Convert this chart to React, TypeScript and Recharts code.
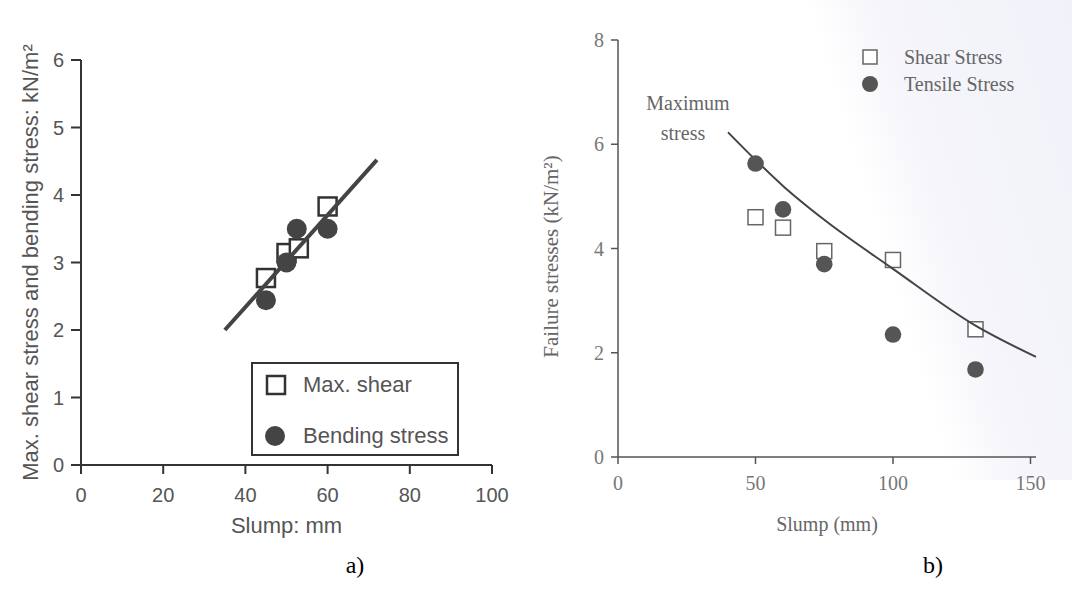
import { ScatterChart, Scatter, XAxis, YAxis, Legend } from 'recharts';

// a) max shear / bending stress vs slump
const slumpShearA = [45, 50, 53, 60];
const shearA = [2.77, 3.14, 3.21, 3.83];
const slumpBendA = [45, 50, 52.5, 60];
const bendA = [2.44, 3.0, 3.5, 3.5];
const fitSlumpA = [35, 72];
const fitA = [2.0, 4.52];
const xTicksA = [0, 20, 40, 60, 80, 100];
const yTicksA = [0, 1, 2, 3, 4, 5, 6];

// b) failure stresses vs slump
const slumpB = [50, 60, 75, 100, 130];
const shearB = [4.6, 4.4, 3.95, 3.78, 2.45];
const tensileB = [5.63, 4.75, 3.7, 2.35, 1.68];
const curveSlumpB = [40, 50, 60, 75, 100, 130, 152];
const curveB = [6.23, 5.7, 5.2, 4.55, 3.61, 2.52, 1.92];
const xTicksB = [0, 50, 100, 150];
const yTicksB = [0, 2, 4, 6, 8];

const zip = (xs: number[], ys: number[]) => xs.map((x, i) => ({ x, y: ys[i] }));

const SANS = '"Liberation Sans", Arial, sans-serif';
const SERIF = '"Liberation Serif", "Times New Roman", serif';

const square = (size: number, stroke: string, sw: number) => (p: any) => (
  <rect x={p.cx - size / 2} y={p.cy - size / 2} width={size} height={size} fill="#fff" stroke={stroke} strokeWidth={sw} />
);
const dot = (r: number, fill: string) => (p: any) => <circle cx={p.cx} cy={p.cy} r={r} fill={fill} />;
const none = () => <g />;

const yTitle = (text: string, dist: number, dy: number, font: string, size: number, color: string) => ({
  content: (p: any) => {
    const vb = p.viewBox;
    const x = vb.x + vb.width - dist;
    const y = vb.y + vb.height / 2 + dy;
    return (
      <text x={x} y={y} transform={`rotate(-90 ${x} ${y})`} textAnchor="middle" dominantBaseline="central"
        fontFamily={font} fontSize={size} fill={color}>{text}</text>
    );
  },
});

const xTitle = (text: string, dist: number, font: string, size: number, color: string) => ({
  content: (p: any) => {
    const vb = p.viewBox;
    return (
      <text x={vb.x + vb.width / 2} y={vb.y + dist} textAnchor="middle" fontFamily={font} fontSize={size} fill={color}>{text}</text>
    );
  },
});

const LegendA = () => (
  <div style={{ width: 208, height: 94, boxSizing: 'border-box', border: '2px solid #333', position: 'relative', fontFamily: SANS, fontSize: 22, color: '#555' }}>
    <svg width={40} height={94} style={{ position: 'absolute', left: 0, top: 0 }}>
      <rect x={14} y={12} width={18} height={18} fill="#fff" stroke="#333" strokeWidth={2.5} />
      <circle cx={22} cy={72} r={10} fill="#444" />
    </svg>
    <div style={{ position: 'absolute', left: 50, top: 8, lineHeight: '26px' }}>Max. shear</div>
    <div style={{ position: 'absolute', left: 50, top: 59, lineHeight: '26px' }}>Bending stress</div>
  </div>
);

const LegendB = () => (
  <div style={{ width: 200, height: 60, position: 'relative', fontFamily: SERIF, fontSize: 20, color: '#666' }}>
    <svg width={30} height={60} style={{ position: 'absolute', left: 0, top: 0 }}>
      <rect x={1} y={5} width={14} height={14} fill="#fff" stroke="#666" strokeWidth={1.5} />
      <circle cx={8} cy={39} r={8} fill="#555" />
    </svg>
    <div style={{ position: 'absolute', left: 42, top: 0, lineHeight: '24px' }}>Shear Stress</div>
    <div style={{ position: 'absolute', left: 42, top: 27, lineHeight: '24px' }}>Tensile Stress</div>
  </div>
);

export default function App() {
  return (
    <div style={{ position: 'absolute', left: 0, top: 0, width: 1072, height: 594, background: '#fff', overflow: 'hidden' }}>
      <div style={{ position: 'absolute', left: 760, top: 0, width: 312, height: 480,
        background: 'linear-gradient(73deg, rgba(244,244,251,0) 42%, #f5f5fb 58%, #f1f1f9 100%)' }} />

      <div style={{ position: 'absolute', left: 0, top: 0 }}>
        <ScatterChart width={540} height={594} margin={{ top: 60, right: 48, bottom: 59, left: 10 }}>
          <XAxis type="number" dataKey="x" domain={[0, 100]} ticks={xTicksA} height={70}
            axisLine={{ stroke: '#333', strokeWidth: 2 }} tickLine={{ stroke: '#333', strokeWidth: 2 }}
            tickSize={9} tickMargin={14} tick={{ fill: '#555', fontSize: 20, fontFamily: SANS }}
            label={xTitle('Slump: mm', 68, SANS, 22, '#555')} />
          <YAxis type="number" dataKey="y" domain={[0, 6]} ticks={yTicksA} width={71}
            axisLine={{ stroke: '#333', strokeWidth: 2 }} tickLine={{ stroke: '#333', strokeWidth: 2 }}
            tickSize={10} tickMargin={7} tick={{ fill: '#555', fontSize: 20, fontFamily: SANS }}
            label={yTitle('Max. shear stress and bending stress: kN/m²', 51, 0, SANS, 22, '#555')} />
          <Scatter name="Max. shear" data={zip(slumpShearA, shearA)} shape={square(18, '#333', 2.5)} isAnimationActive={false} />
          <Scatter name="fit" data={zip(fitSlumpA, fitA)} shape={none} line={{ stroke: '#444', strokeWidth: 4 }} isAnimationActive={false} />
          <Scatter name="Bending stress" data={zip(slumpBendA, bendA)} shape={dot(10, '#444')} isAnimationActive={false} />
          <Legend layout="vertical" align="center" verticalAlign="middle" content={<LegendA />}
            wrapperStyle={{ left: 251, top: 362, width: 208, height: 94 }} />
        </ScatterChart>
      </div>

      <div style={{ position: 'absolute', left: 540, top: 0 }}>
        <ScatterChart width={532} height={594} margin={{ top: 40, right: 36, bottom: 67, left: 18 }}>
          <XAxis type="number" dataKey="x" domain={[0, 150]} ticks={xTicksB} height={70}
            axisLine={{ stroke: '#555', strokeWidth: 1.5 }} tickLine={{ stroke: '#555', strokeWidth: 1.5 }}
            tickSize={7} tickMargin={12} tick={{ fill: '#777', fontSize: 20, fontFamily: SERIF }}
            label={xTitle('Slump (mm)', 74, SERIF, 20, '#666')} />
          <YAxis type="number" dataKey="y" domain={[0, 8]} ticks={yTicksB} width={60}
            axisLine={{ stroke: '#555', strokeWidth: 1.5 }} tickLine={{ stroke: '#555', strokeWidth: 1.5 }}
            tickSize={7} tickMargin={7} tick={{ fill: '#777', fontSize: 20, fontFamily: SERIF }}
            label={yTitle('Failure stresses (kN/m²)', 67, 8, SERIF, 21, '#666')} />
          <Scatter name="Shear Stress" data={zip(slumpB, shearB)} shape={square(15, '#666', 1.5)} isAnimationActive={false} />
          <Scatter name="Maximum stress" data={zip(curveSlumpB, curveB)} shape={none} lineJointType="monotoneX"
            line={{ stroke: '#444', strokeWidth: 2 }} isAnimationActive={false} />
          <Scatter name="Tensile Stress" data={zip(slumpB, tensileB)} shape={dot(8.3, '#555')} isAnimationActive={false} />
          <text x={148} y={103} textAnchor="middle" dominantBaseline="central" fontFamily={SERIF} fontSize={20} fill="#666">Maximum</text>
          <text x={143} y={133} textAnchor="middle" dominantBaseline="central" fontFamily={SERIF} fontSize={20} fill="#666">stress</text>
          <Legend layout="vertical" align="center" verticalAlign="middle" content={<LegendB />}
            wrapperStyle={{ left: 322, top: 45, width: 200, height: 60 }} />
        </ScatterChart>
      </div>

      <div style={{ position: 'absolute', left: 0, top: 552, width: 710, textAlign: 'center', fontFamily: SERIF, fontSize: 24 }}>a)</div>
      <div style={{ position: 'absolute', left: 580, top: 552, width: 710, textAlign: 'left', fontFamily: SERIF, fontSize: 24 }}>
        <span style={{ position: 'absolute', left: 343 }}>b)</span>
      </div>
    </div>
  );
}
